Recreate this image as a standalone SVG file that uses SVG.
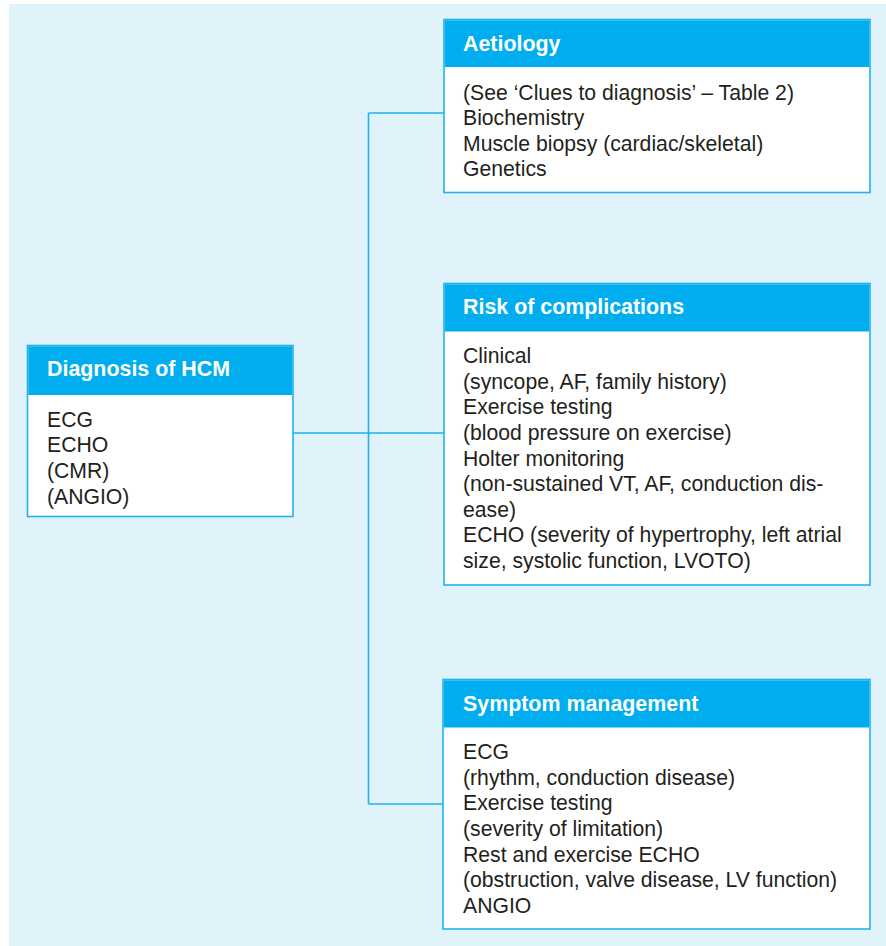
<svg xmlns="http://www.w3.org/2000/svg" width="886" height="946" viewBox="0 0 886 946">
<style>
.box{fill:#ffffff;stroke:#1fb3ec;stroke-width:1.6}
.hdr{fill:#00aeef}
.ht{font-family:"Liberation Sans",Arial,sans-serif;font-size:21.4px;font-weight:bold;fill:#ffffff}
.bt{font-family:"Liberation Sans",Arial,sans-serif;font-size:21.2px;fill:#231f20}
.con{fill:none;stroke:#1fb3ec;stroke-width:1.6}
</style>
<rect x="9" y="4" width="877" height="942" fill="#e0f2fa"/>
<g id="connectors">
<path class="con" d="M293 433H444M368.5 113V804M368.5 113H444M368.5 804H443"/>
</g>
<g id="aetiology">
<rect class="box" x="444" y="19.5" width="426" height="173"/>
<rect class="hdr" x="444.8" y="20.3" width="424.4" height="46.7"/>
<text class="ht" x="463" y="50.5">Aetiology</text>
<text class="bt" x="463" y="99.5">(See ‘Clues to diagnosis’ – Table 2)</text>
<text class="bt" x="463" y="125.1">Biochemistry</text>
<text class="bt" x="463" y="150.7">Muscle biopsy (cardiac/skeletal)</text>
<text class="bt" x="463" y="176.3">Genetics</text>
</g>
<g id="diagnosis">
<rect class="box" x="27.5" y="345.5" width="265.5" height="171"/>
<rect class="hdr" x="28.3" y="346.3" width="263.9" height="48.7"/>
<text class="ht" x="47" y="376.3">Diagnosis of HCM</text>
<text class="bt" x="47" y="426.5">ECG</text>
<text class="bt" x="47" y="452.2">ECHO</text>
<text class="bt" x="47" y="477.8">(CMR)</text>
<text class="bt" x="47" y="503.5">(ANGIO)</text>
</g>
<g id="risk">
<rect class="box" x="444" y="283.5" width="426" height="301.5"/>
<rect class="hdr" x="444.8" y="284.3" width="424.4" height="47.2"/>
<text class="ht" x="463" y="314.3">Risk of complications</text>
<text class="bt" x="463" y="363.2">Clinical</text>
<text class="bt" x="463" y="388.8">(syncope, AF, family history)</text>
<text class="bt" x="463" y="414.4">Exercise testing</text>
<text class="bt" x="463" y="440">(blood pressure on exercise)</text>
<text class="bt" x="463" y="465.6">Holter monitoring</text>
<text class="bt" x="463" y="491.2">(non-sustained VT, AF, conduction dis-</text>
<text class="bt" x="463" y="516.8">ease)</text>
<text class="bt" x="463" y="542.4">ECHO (severity of hypertrophy, left atrial</text>
<text class="bt" x="463" y="568">size, systolic function, LVOTO)</text>
</g>
<g id="symptom">
<rect class="box" x="443" y="679.5" width="427" height="249.5"/>
<rect class="hdr" x="443.8" y="680.3" width="425.4" height="47.2"/>
<text class="ht" x="463" y="710.8">Symptom management</text>
<text class="bt" x="463" y="758.8">ECG</text>
<text class="bt" x="463" y="784.5">(rhythm, conduction disease)</text>
<text class="bt" x="463" y="810.1">Exercise testing</text>
<text class="bt" x="463" y="835.8">(severity of limitation)</text>
<text class="bt" x="463" y="861.5">Rest and exercise ECHO</text>
<text class="bt" x="463" y="887.1">(obstruction, valve disease, LV function)</text>
<text class="bt" x="463" y="912.8">ANGIO</text>
</g>
</svg>
